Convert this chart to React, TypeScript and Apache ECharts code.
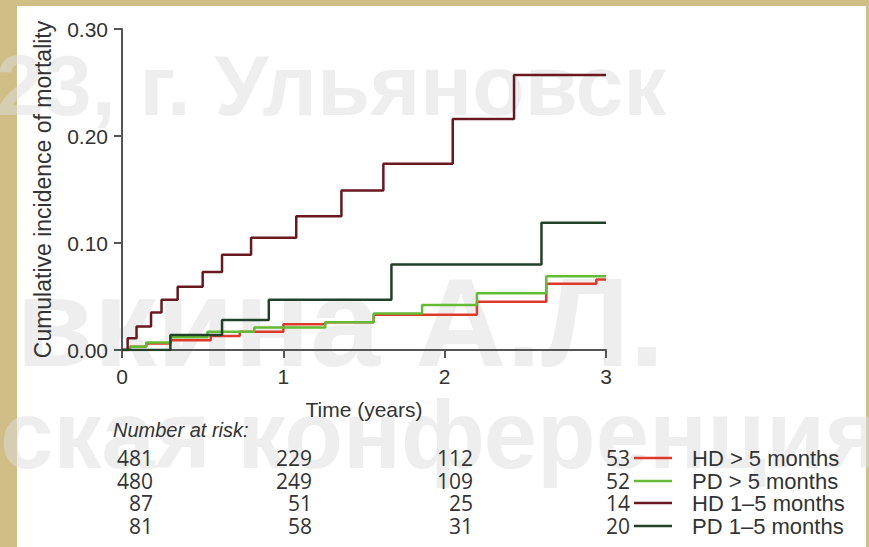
import React, { useEffect, useRef } from "react";
import * as echarts from "echarts";

// ---- Data ----
const hd5Times = [0, 0.05, 0.15, 0.3, 0.55, 0.73, 1.0, 1.26, 1.56, 2.2, 2.63, 2.94, 3];
const hd5Values = [0, 0.003, 0.006, 0.009, 0.013, 0.017, 0.024, 0.026, 0.033, 0.045, 0.062, 0.066, 0.066];

const pd5Times = [0, 0.05, 0.15, 0.3, 0.53, 0.82, 1.26, 1.56, 1.86, 2.2, 2.63, 3];
const pd5Values = [0, 0.003, 0.007, 0.012, 0.017, 0.021, 0.026, 0.034, 0.042, 0.053, 0.069, 0.069];

const hd15Times = [0, 0.035, 0.09, 0.18, 0.245, 0.345, 0.5, 0.62, 0.8, 1.08, 1.36, 1.62, 2.05, 2.43, 3];
const hd15Values = [0, 0.011, 0.022, 0.035, 0.047, 0.059, 0.073, 0.089, 0.105, 0.125, 0.149, 0.174, 0.216, 0.257, 0.257];

const pd15Times = [0, 0.3, 0.62, 0.91, 1.67, 2.6, 3];
const pd15Values = [0, 0.014, 0.028, 0.047, 0.08, 0.119, 0.119];

const seriesNames = ["HD > 5 months", "PD > 5 months", "HD 1\u20135 months", "PD 1\u20135 months"];
const seriesColors = ["#de3a2c", "#63bb36", "#6a1820", "#22402a"];

const riskHD5 = [481, 229, 112, 53];
const riskPD5 = [480, 249, 109, 52];
const riskHD15 = [87, 51, 25, 14];
const riskPD15 = [81, 58, 31, 20];

const xTicks = [0, 1, 2, 3];
const yTicks = [0, 0.1, 0.2, 0.3];

const watermarks = ["23, г. Ульяновск", "вкина А.Л.", "ская конференция"];

const FONT = "'Liberation Sans', Arial, sans-serif";
const NUMFONT = "'Open Sans', sans-serif";

function zip(t: number[], v: number[]) {
  return t.map((x, i) => [x, v[i]]);
}

export default function App() {
  const ref = useRef<HTMLDivElement>(null);
  useEffect(() => {
    document.body.style.margin = "0";
    const chart = echarts.init(ref.current!, null, { renderer: "svg" });

    const gridLeft = 122;
    const gridTop = 29;
    const gridRight = 606;
    const gridBottom = 350;

    const allRisk = [riskHD5, riskPD5, riskHD15, riskPD15];
    const seriesData = [zip(hd5Times, hd5Values), zip(pd5Times, pd5Values), zip(hd15Times, hd15Values), zip(pd15Times, pd15Values)];

    const colRight = [153, 312, 473, 630];
    const rowY = [458, 481, 503, 526];
    const wmFill = "rgba(222,222,222,0.5)";

    const graphics: any[] = [
      {
        type: "rect",
        z: -10,
        silent: true,
        shape: { x: 17, y: 6, width: 849, height: 541 },
        style: { fill: "#ffffff" },
      },
      {
        type: "text",
        z: -5,
        silent: true,
        x: -4,
        y: 85,
        style: { text: watermarks[0], font: `bold 86px ${FONT}`, fill: wmFill, textVerticalAlign: "middle", textAlign: "left" },
      },
      {
        type: "text",
        z: -5,
        silent: true,
        x: 16,
        y: 322,
        style: { text: watermarks[1], font: `bold 126px ${FONT}`, fill: wmFill, textVerticalAlign: "middle", textAlign: "left" },
      },
      {
        type: "text",
        z: -5,
        silent: true,
        x: 0,
        y: 434,
        style: { text: watermarks[2], font: `bold 96px ${FONT}`, fill: wmFill, textVerticalAlign: "middle", textAlign: "left" },
      },
      {
        type: "text",
        z: 5,
        x: 113,
        y: 430,
        style: { text: "Number at risk:", font: `italic 20px ${FONT}`, fill: "#333", textVerticalAlign: "middle", textAlign: "left" },
      },
    ];

    allRisk.forEach((row, r) => {
      row.forEach((n, c) => {
        graphics.push({
          type: "text",
          z: 5,
          x: colRight[c],
          y: rowY[r],
          style: { text: String(n), font: `21px ${NUMFONT}`, fill: "#333", textAlign: "right", textVerticalAlign: "middle" },
        });
      });
      graphics.push({
        type: "line",
        z: 5,
        shape: { x1: 634, y1: rowY[r], x2: 672, y2: rowY[r] },
        style: { stroke: seriesColors[r], lineWidth: 2.5 },
      });
      graphics.push({
        type: "text",
        z: 5,
        x: 692,
        y: rowY[r],
        style: { text: seriesNames[r], font: `22px ${FONT}`, fill: "#333", textAlign: "left", textVerticalAlign: "middle" },
      });
    });

    const axisColor = "#555";

    chart.setOption({
      animation: false,
      backgroundColor: "#cfbf86",
      graphic: graphics,
      grid: {
        left: gridLeft,
        top: gridTop,
        width: gridRight - gridLeft,
        height: gridBottom - gridTop,
        containLabel: false,
      },
      xAxis: {
        type: "value",
        min: xTicks[0],
        max: xTicks[xTicks.length - 1],
        interval: 1,
        name: "Time (years)",
        nameLocation: "middle",
        nameGap: 49,
        nameTextStyle: { fontFamily: FONT, fontSize: 21, color: "#333" },
        axisLine: { lineStyle: { color: axisColor, width: 2 } },
        axisTick: { show: true, length: 8, lineStyle: { color: axisColor, width: 2 } },
        axisLabel: { margin: 16, fontFamily: FONT, fontSize: 21, color: "#333" },
        splitLine: { show: false },
      },
      yAxis: {
        type: "value",
        min: yTicks[0],
        max: yTicks[yTicks.length - 1],
        interval: 0.1,
        name: "Cumulative incidence of mortality",
        nameLocation: "middle",
        nameGap: 68,
        nameTextStyle: { fontFamily: FONT, fontSize: 23, color: "#333" },
        axisLine: { show: true, lineStyle: { color: axisColor, width: 2 } },
        axisTick: { show: true, length: 8, lineStyle: { color: axisColor, width: 2 } },
        axisLabel: { margin: 14, fontFamily: FONT, fontSize: 21, color: "#333", formatter: (v: number) => v.toFixed(2) },
        splitLine: { show: false },
      },
      series: seriesData.map((d, i) => ({
        name: seriesNames[i],
        type: "line",
        step: "end",
        data: d,
        showSymbol: false,
        symbol: "none",
        z: 3 + i,
        lineStyle: { color: seriesColors[i], width: 2.5 },
        itemStyle: { color: seriesColors[i] },
      })),
    });
    return () => chart.dispose();
  }, []);
  return <div ref={ref} style={{ width: 869, height: 547 }} />;
}
